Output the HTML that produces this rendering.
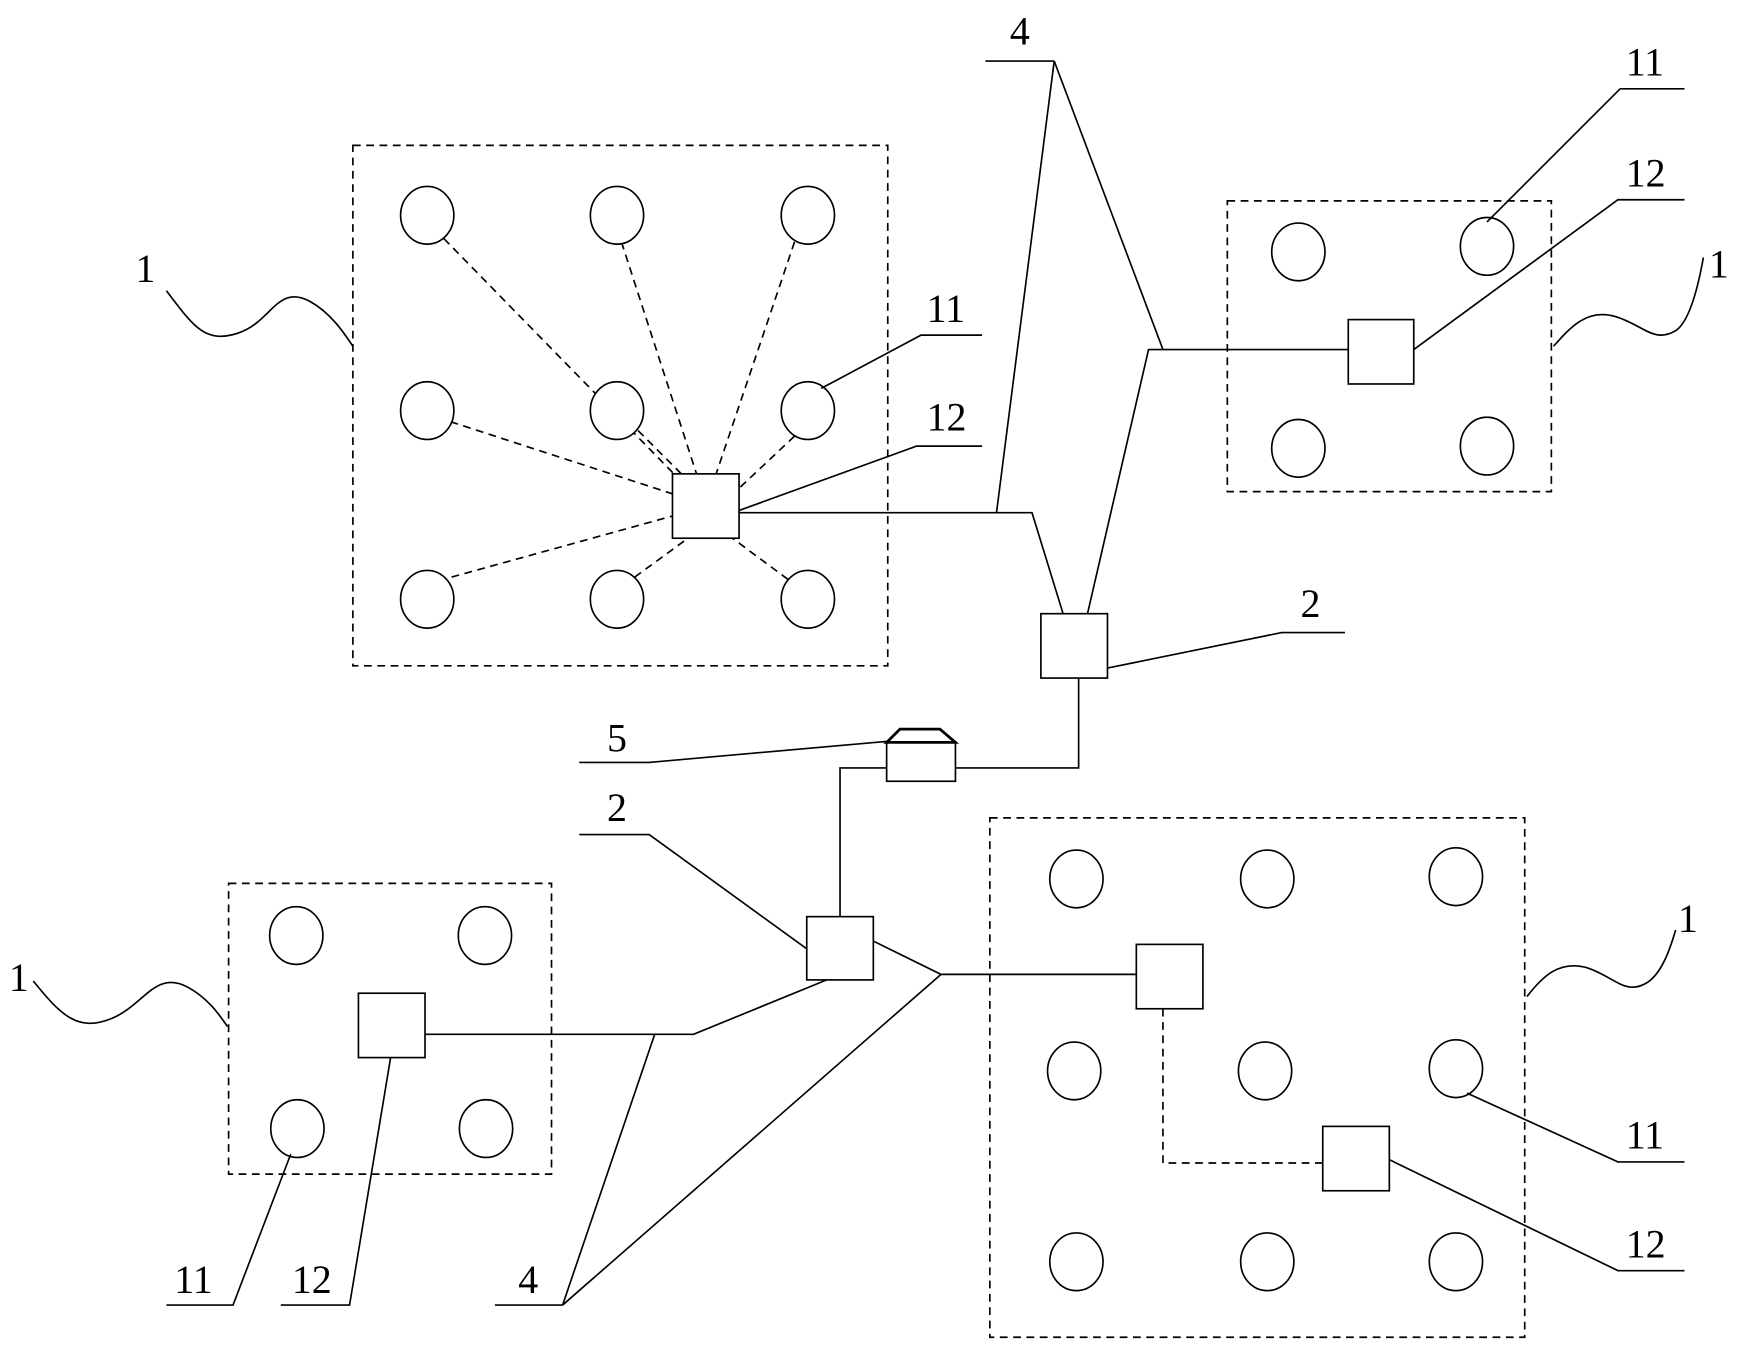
<!DOCTYPE html>
<html><head><meta charset="utf-8"><style>
html,body{margin:0;padding:0;background:#fff;}
svg{display:block;}
text{font-family:"Liberation Serif",serif;font-size:36px;fill:#000;}
</style></head><body>
<svg width="1740" height="1355" viewBox="0 0 1568 1221" preserveAspectRatio="none" xmlns="http://www.w3.org/2000/svg">
<g fill="none" stroke="#000" stroke-width="1.5">
<!-- dashed boxes -->
<g stroke-dasharray="7,5">
<rect x="318" y="131" width="482" height="469"/>
<rect x="1106" y="181" width="292" height="262"/>
<rect x="206" y="796" width="291" height="262"/>
<rect x="892" y="737" width="482" height="468"/>
<!-- dashed lines box A -->
<line x1="400" y1="215" x2="620" y2="440"/>
<line x1="560" y1="218" x2="628" y2="428"/>
<line x1="716" y1="218" x2="645" y2="428"/>
<line x1="406" y1="380" x2="606" y2="445"/>
<line x1="575" y1="388" x2="615" y2="428"/>
<line x1="716" y1="393" x2="666" y2="440"/>
<line x1="407" y1="520" x2="606" y2="465"/>
<line x1="572" y1="520" x2="620" y2="485"/>
<line x1="710" y1="522" x2="660" y2="485"/>
<polyline points="1048,909 1048,1048 1192,1048"/>
</g>
<!-- circles -->
<g fill="#fff">
<ellipse cx="385" cy="194" rx="24" ry="26"/><ellipse cx="556" cy="194" rx="24" ry="26"/><ellipse cx="728" cy="194" rx="24" ry="26"/>
<ellipse cx="385" cy="370" rx="24" ry="26"/><ellipse cx="556" cy="370" rx="24" ry="26"/><ellipse cx="728" cy="370" rx="24" ry="26"/>
<ellipse cx="385" cy="540" rx="24" ry="26"/><ellipse cx="556" cy="540" rx="24" ry="26"/><ellipse cx="728" cy="540" rx="24" ry="26"/>
<ellipse cx="1170" cy="227" rx="24" ry="26"/><ellipse cx="1340" cy="222" rx="24" ry="26"/>
<ellipse cx="1170" cy="404" rx="24" ry="26"/><ellipse cx="1340" cy="402" rx="24" ry="26"/>
<ellipse cx="267" cy="843" rx="24" ry="26"/><ellipse cx="437" cy="843" rx="24" ry="26"/>
<ellipse cx="268" cy="1017" rx="24" ry="26"/><ellipse cx="438" cy="1017" rx="24" ry="26"/>
<ellipse cx="970" cy="792" rx="24" ry="26"/><ellipse cx="1142" cy="792" rx="24" ry="26"/><ellipse cx="1312" cy="790" rx="24" ry="26"/>
<ellipse cx="968" cy="965" rx="24" ry="26"/><ellipse cx="1140" cy="965" rx="24" ry="26"/><ellipse cx="1312" cy="963" rx="24" ry="26"/>
<ellipse cx="970" cy="1137" rx="24" ry="26"/><ellipse cx="1142" cy="1137" rx="24" ry="26"/><ellipse cx="1312" cy="1137" rx="24" ry="26"/>
<!-- squares -->
<rect x="606" y="427" width="60" height="58"/>
<rect x="1215" y="288" width="59" height="58"/>
<rect x="938" y="553" width="60" height="58"/>
<rect x="727" y="826" width="60" height="57"/>
<rect x="323" y="895" width="60" height="58"/>
<rect x="1024" y="851" width="60" height="58"/>
<rect x="1192" y="1015" width="60" height="58"/>
<rect x="799" y="669" width="62" height="35"/>
</g>
<polygon points="799,669 811,657 847,657 861,669" fill="none" stroke-width="2.5"/>
<!-- solid connections -->
<polyline points="666,462 930,462 958,553"/>
<line x1="950" y1="55" x2="898" y2="462"/>
<line x1="950" y1="55" x2="1048" y2="315"/>
<polyline points="980,553 1035,315 1215,315"/>
<polyline points="972,611 972,692 861,692"/>
<polyline points="799,692 757,692 757,826"/>
<polyline points="787,848 848,878 1024,878"/>
<line x1="848" y1="878" x2="507" y2="1176"/>
<polyline points="745,883 625,932 383,932"/>
<line x1="590" y1="932" x2="507" y2="1176"/>
<!-- leaders -->
<polyline points="888,55 950,55"/>
<polyline points="885,302 830,302 740,350"/>
<polyline points="885,402 826,402 666,460"/>
<polyline points="1518,80 1460,80 1340,200"/>
<polyline points="1518,180 1458,180 1274,315"/>
<polyline points="1212,570 1155,570 998,602"/>
<polyline points="522,687 585,687 800,668"/>
<polyline points="522,752 585,752 727,855"/>
<polyline points="446,1176 507,1176"/>
<polyline points="150,1176 210,1176 262,1040"/>
<polyline points="253,1176 315,1176 352,953"/>
<polyline points="1518,1047 1458,1047 1322,985"/>
<polyline points="1518,1145 1458,1145 1252,1045"/>
<!-- waves -->
<path d="M150,262 C175,295 185,310 215,300 C245,290 250,255 280,272 C298,282 310,300 318,312"/>
<path d="M1400,312 C1415,295 1430,278 1455,285 C1480,292 1490,310 1510,298 C1522,290 1530,260 1535,232"/>
<path d="M30,884 C55,915 70,930 100,918 C130,906 140,873 170,890 C188,900 198,915 205,925"/>
<path d="M1376,898 C1390,880 1405,865 1430,872 C1455,880 1465,898 1485,885 C1498,876 1505,855 1510,838"/>
</g>
<text x="122" y="254">1</text>
<text x="835" y="290">11</text>
<text x="835" y="388">12</text>
<text x="910" y="40">4</text>
<text x="1465" y="68">11</text>
<text x="1465" y="168">12</text>
<text x="1540" y="250">1</text>
<text x="1172" y="556">2</text>
<text x="547" y="677">5</text>
<text x="547" y="740">2</text>
<text x="8" y="893">1</text>
<text x="1512" y="840">1</text>
<text x="1465" y="1035">11</text>
<text x="1465" y="1133">12</text>
<text x="157" y="1165">11</text>
<text x="263" y="1165">12</text>
<text x="467" y="1165">4</text>
</svg>
</body></html>
